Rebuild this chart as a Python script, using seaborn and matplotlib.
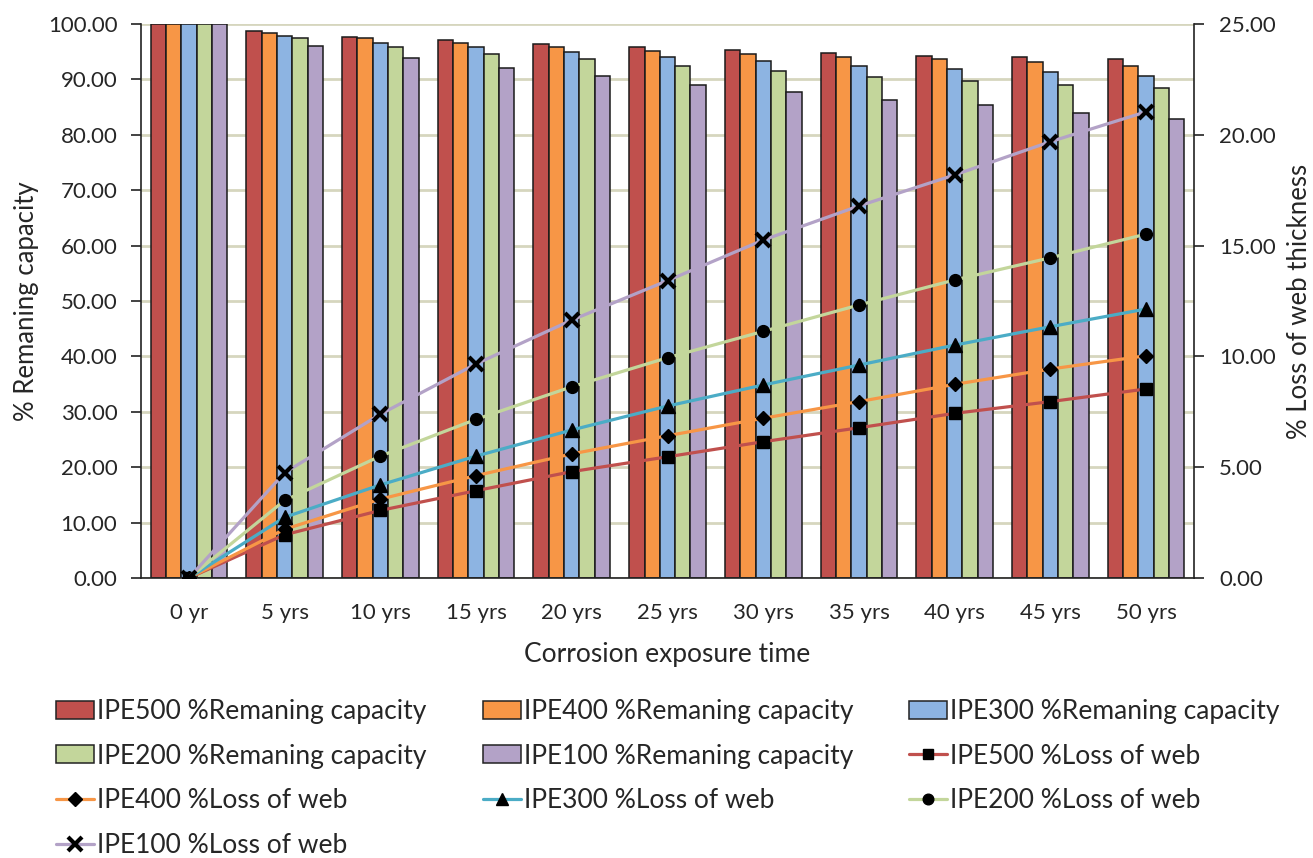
import numpy as np
import pandas as pd
import matplotlib
matplotlib.use("Agg")
import matplotlib.pyplot as plt
from matplotlib.patches import Patch
from matplotlib.lines import Line2D
from matplotlib.ticker import FixedLocator, FormatStrFormatter
import seaborn as sns

# ---------------- data ----------------
times = ["0 yr", "5 yrs", "10 yrs", "15 yrs", "20 yrs", "25 yrs",
         "30 yrs", "35 yrs", "40 yrs", "45 yrs", "50 yrs"]
sections = ["IPE500", "IPE400", "IPE300", "IPE200", "IPE100"]

cap_ipe500 = [100, 98.7, 97.6, 97.1, 96.4, 95.8, 95.3, 94.8, 94.3, 94.0, 93.6]
cap_ipe400 = [100, 98.4, 97.4, 96.6, 95.8, 95.1, 94.6, 94.0, 93.6, 93.1, 92.5]
cap_ipe300 = [100, 97.9, 96.6, 95.8, 94.9, 94.0, 93.3, 92.5, 91.8, 91.3, 90.7]
cap_ipe200 = [100, 97.4, 95.8, 94.6, 93.6, 92.5, 91.6, 90.5, 89.8, 89.0, 88.4]
cap_ipe100 = [100, 96.1, 93.8, 92.1, 90.6, 89.0, 87.8, 86.3, 85.3, 84.0, 82.9]

loss_ipe500 = [0, 1.95, 3.05, 3.94, 4.80, 5.47, 6.15, 6.78, 7.43, 7.96, 8.53]
loss_ipe400 = [0, 2.20, 3.56, 4.62, 5.60, 6.42, 7.21, 7.96, 8.74, 9.43, 10.03]
loss_ipe300 = [0, 2.74, 4.20, 5.50, 6.68, 7.76, 8.71, 9.61, 10.51, 11.34, 12.14]
loss_ipe200 = [0, 3.50, 5.50, 7.16, 8.63, 9.94, 11.13, 12.32, 13.45, 14.45, 15.52]
loss_ipe100 = [0, 4.75, 7.39, 9.66, 11.64, 13.42, 15.25, 16.79, 18.19, 19.69, 21.04]

left_ticks = [0, 10, 20, 30, 40, 50, 60, 70, 80, 90, 100]
right_ticks = [0, 5, 10, 15, 20, 25]

caps = [cap_ipe500, cap_ipe400, cap_ipe300, cap_ipe200, cap_ipe100]
losses = [loss_ipe500, loss_ipe400, loss_ipe300, loss_ipe200, loss_ipe100]

# ---------------- style ----------------
bar_colors = ["#C0504D", "#F79646", "#8DB4E2", "#C3D69B", "#B3A2C7"]
line_colors = ["#C0504D", "#F79646", "#4BACC6", "#C3D69B", "#B3A2C7"]
markers = ["s", "D", "^", "o", "x"]
msizes = [8.5, 7.5, 9.5, 8.5, 10.5]

sns.set_theme(style="white")
plt.rcParams["font.family"] = ["Lato", "DejaVu Sans"]
FS = 16
LFS = 19

df_cap = pd.DataFrame({
    "time": [t for s in sections for t in times],
    "section": [s for s in sections for _ in times],
    "value": [v for c in caps for v in c],
})

fig = plt.figure(figsize=(13.13, 8.58), dpi=100)
ax = fig.add_axes([141 / 1313, 1 - 578 / 858, (1194 - 141) / 1313, (578 - 24) / 858])

sns.barplot(data=df_cap, x="time", y="value", hue="section", order=times,
            hue_order=sections, palette=bar_colors, edgecolor="#1a1a1a",
            linewidth=1.1, width=0.8, saturation=1, ax=ax, legend=False)

ax.set_xlim(-0.5, len(times) - 0.5)
ax.set_ylim(0, 100)
ax.yaxis.set_major_locator(FixedLocator(left_ticks))
ax.yaxis.set_major_formatter(FormatStrFormatter("%.2f"))
ax.set_axisbelow(True)
ax.grid(axis="y", color="#D6D6BE", linewidth=2)
ax.grid(axis="x", visible=False)
ax.set_xticks(range(len(times)))
ax.set_xticklabels(times, fontsize=FS)
ax.set_xticks(np.arange(-0.5, len(times), 1.0), minor=True)
ax.tick_params(axis="x", which="major", length=0, pad=18)
ax.tick_params(axis="x", which="minor", length=8, width=1.2, color="#222222", direction="out")
ax.tick_params(axis="y", labelsize=FS, length=7, width=1.2, color="#222222",
               direction="out", left=True, pad=10)
for s in ["top", "right"]:
    ax.spines[s].set_visible(False)
for s in ["left", "bottom"]:
    ax.spines[s].set_color("#222222")
    ax.spines[s].set_linewidth(1.2)
ax.set_xlabel("Corrosion exposure time", fontsize=19, labelpad=14)
ax.set_ylabel("% Remaning capacity", fontsize=18.5, labelpad=6)

ax2 = ax.twinx()
xpos = np.arange(len(times))
for vals, c, m, ms in zip(losses, line_colors, markers, msizes):
    sns.lineplot(x=xpos, y=vals, color=c, linewidth=2.3, marker=m, markersize=ms,
                 markerfacecolor="black", markeredgecolor="black",
                 markeredgewidth=3 if m == "x" else 1, sort=False, ax=ax2)
ax2.set_ylim(0, 25)
ax2.yaxis.set_major_locator(FixedLocator(right_ticks))
ax2.yaxis.set_major_formatter(FormatStrFormatter("%.2f"))
ax2.tick_params(axis="y", labelsize=FS, length=7, width=1.2, color="#222222",
                direction="out", right=True, pad=11)
ax2.grid(False)
for s in ["top", "left", "bottom"]:
    ax2.spines[s].set_visible(False)
ax2.spines["right"].set_color("#222222")
ax2.spines["right"].set_linewidth(1.2)
ax2.set_ylabel("% Loss of web thickness", fontsize=18.5, labelpad=8)
ax2.set_xlabel("")

# ---------------- legend (three columns) ----------------
bar_h = [Patch(facecolor=c, edgecolor="#222222", linewidth=1.1) for c in bar_colors]
line_h = [Line2D([0], [0], color=c, linewidth=2.3, marker=m, markersize=ms * 0.9,
                 markerfacecolor="black", markeredgecolor="black",
                 markeredgewidth=3 if m == "x" else 1)
          for c, m, ms in zip(line_colors, markers, msizes)]
bar_l = [f"{s} %Remaning capacity" for s in sections]
line_l = [f"{s} %Loss of web" for s in sections]

handles = bar_h + line_h
labels = bar_l + line_l
cols = [[0, 3, 6, 9], [1, 4, 7], [2, 5, 8]]
col_x = [56 / 1313, 483 / 1313, 909 / 1313]
for idx, x0 in zip(cols, col_x):
    fig.legend([handles[i] for i in idx], [labels[i] for i in idx],
               loc="upper left", bbox_to_anchor=(x0, 1 - 699 / 858),
               frameon=False, fontsize=LFS, handlelength=1.45, handleheight=0.65,
               handletextpad=0.12, labelspacing=0.74, borderaxespad=0, borderpad=0)

fig.savefig("out.png", dpi=100)
